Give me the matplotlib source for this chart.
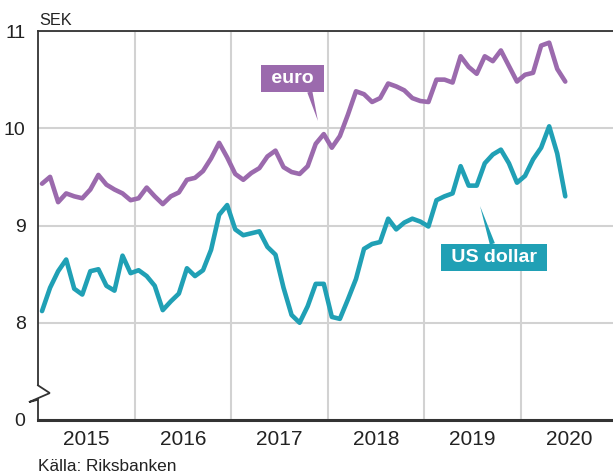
import matplotlib.pyplot as plt
import numpy as np

plt.rcParams['font.family'] = ['Liberation Sans', 'DejaVu Sans']

# manadsmedel jan 2015 - jun 2020, kronor per valuta
euro = [9.43, 9.50, 9.24, 9.33, 9.30, 9.28, 9.37, 9.52, 9.42, 9.37, 9.33, 9.26,
        9.28, 9.39, 9.30, 9.22, 9.30, 9.34, 9.47, 9.49, 9.56, 9.69, 9.85, 9.70,
        9.53, 9.47, 9.54, 9.59, 9.71, 9.77, 9.60, 9.55, 9.53, 9.61, 9.84, 9.94,
        9.80, 9.92, 10.14, 10.38, 10.35, 10.27, 10.31, 10.46, 10.43, 10.39, 10.31, 10.28,
        10.27, 10.50, 10.50, 10.47, 10.74, 10.63, 10.56, 10.74, 10.69, 10.80, 10.64, 10.48,
        10.55, 10.57, 10.85, 10.88, 10.61, 10.48]
usd = [8.12, 8.36, 8.53, 8.65, 8.35, 8.29, 8.53, 8.55, 8.38, 8.33, 8.69, 8.51,
       8.54, 8.48, 8.38, 8.13, 8.22, 8.30, 8.56, 8.48, 8.54, 8.75, 9.11, 9.21,
       8.96, 8.90, 8.92, 8.94, 8.78, 8.70, 8.36, 8.08, 8.00, 8.17, 8.40, 8.40,
       8.06, 8.04, 8.24, 8.45, 8.76, 8.81, 8.83, 9.07, 8.96, 9.03, 9.07, 9.04,
       8.99, 9.26, 9.30, 9.33, 9.61, 9.41, 9.41, 9.64, 9.73, 9.78, 9.64, 9.44,
       9.51, 9.68, 9.80, 10.02, 9.74, 9.30]
start_year = 2015
years = [2015, 2016, 2017, 2018, 2019, 2020]
ytick_vals = [7, 8, 9, 10, 11]          # 7 ritas som 0 (bruten axel)
ytick_labels = ['0', '8', '9', '10', '11']

EURO_C = '#9b6aad'
USD_C = '#20a0b5'
TXT = '#222222'
AX_C = '#333333'
GRID_C = '#d2d2d2'

x = start_year + (np.arange(len(euro)) + 0.5) / 12

fig = plt.figure(figsize=(6.13, 4.75), dpi=100)
ax = fig.add_axes([38/613, 1-420/475, 1-38/613, (420-31)/475])

ax.plot(x, euro, color=EURO_C, lw=3.3, solid_joinstyle='round', solid_capstyle='round', zorder=3)
ax.plot(x, usd, color=USD_C, lw=3.3, solid_joinstyle='round', solid_capstyle='round', zorder=3)

ax.set_xlim(2015, 2015 + (613-38)/96.6)
ax.set_ylim(7, 11)

ax.set_yticks(ytick_vals)
ax.set_yticklabels(ytick_labels)
ax.set_xticks([y + 0.5 for y in years])
ax.set_xticklabels([str(y) for y in years])
ax.set_xticks(years[1:], minor=True)
ax.tick_params(axis='y', length=0, pad=9, labelsize=14, labelcolor=TXT)
ax.tick_params(axis='x', which='both', length=0, pad=7, labelsize=15, labelcolor=TXT)

ax.set_axisbelow(True)
ax.xaxis.grid(False, which='major')
ax.xaxis.grid(True, which='minor', color=GRID_C, lw=1.5)
ax.yaxis.grid(True, which='major', color=GRID_C, lw=1.5)

for s in ['right', 'left']:
    ax.spines[s].set_visible(False)
ax.spines['top'].set_color(AX_C)
ax.spines['top'].set_linewidth(1.3)
ax.spines['bottom'].set_color(AX_C)
ax.spines['bottom'].set_linewidth(2.2)

# vanster axel med brytmarkering
tr = ax.get_yaxis_transform()
ax.plot([0, 0], [11, 7.356], color=AX_C, lw=1.3, transform=tr, clip_on=False, zorder=4)
ax.plot([0, 0.0205, -0.0157, 0, 0], [7.356, 7.277, 7.184, 7.209, 7],
        color=AX_C, lw=1.3, transform=tr, clip_on=False, zorder=4,
        solid_joinstyle='miter')

# etiketter
ax.annotate(' euro ', xy=(2017.898, 10.075), xytext=(2017.635, 10.512),
            ha='center', va='center', color='white', fontweight='bold', fontsize=14,
            bbox=dict(boxstyle='square,pad=0.25', fc=EURO_C, ec='none'),
            arrowprops=dict(arrowstyle='wedge,tail_width=0.27', fc=EURO_C, ec='none',
                            relpos=(0.8, 0), shrinkA=0, shrinkB=0),
            zorder=5)
ax.annotate(' US dollar ', xy=(2019.576, 9.20), xytext=(2019.72, 8.673),
            ha='center', va='center', color='white', fontweight='bold', fontsize=14,
            bbox=dict(boxstyle='square,pad=0.25', fc=USD_C, ec='none'),
            arrowprops=dict(arrowstyle='wedge,tail_width=0.27', fc=USD_C, ec='none',
                            relpos=(0.5, 1), shrinkA=0, shrinkB=0),
            zorder=5)

fig.text(39/613, 1-25/475, 'SEK', fontsize=11.7, color=TXT, ha='left', va='baseline')
fig.text(38/613, 1-471/475, 'Källa: Riksbanken', fontsize=12.4, color=TXT, ha='left', va='baseline')

fig.savefig('out.png', dpi=100)
